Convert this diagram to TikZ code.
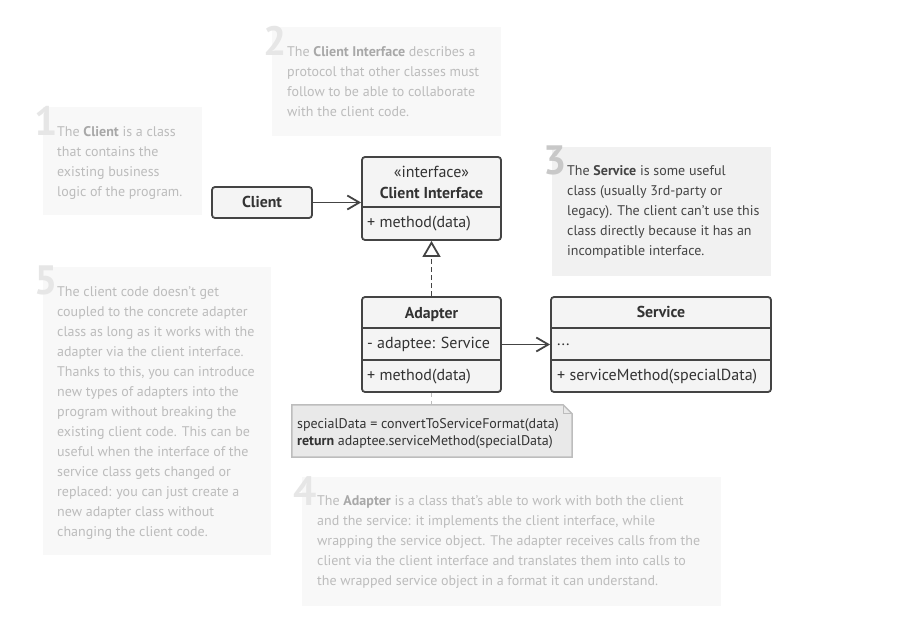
\documentclass[tikz,border=0pt]{standalone}
\usepackage{fontspec}
\setmainfont{PT Sans}
\usetikzlibrary{arrows.meta,calc}
\definecolor{ink}{HTML}{444444}
\definecolor{txt}{HTML}{333333}
\definecolor{boxfill}{HTML}{F4F4F4}
\definecolor{notefill}{HTML}{E9E9E9}
\definecolor{noteline}{HTML}{BDBDBD}
\definecolor{fadebg}{HTML}{F8F8F8}
\definecolor{fadetxt}{HTML}{BCBCBC}
\definecolor{fadebold}{HTML}{A8A8A8}
\definecolor{fadenum}{HTML}{E6E6E6}
\definecolor{hibg}{HTML}{F1F1F1}
\definecolor{hitxt}{HTML}{444444}
\definecolor{hinum}{HTML}{C8C8C8}
\newcommand\fadebf[1]{{\bfseries\color{fadebold}#1}}
\begin{document}
\begin{tikzpicture}[x=1pt,y=-1pt,
  umlbox/.style={draw=ink, fill=boxfill, line width=1.8pt, rounded corners=3pt, inner sep=0pt},
  boxtitle/.style={inner sep=0pt, anchor=base, text=txt, font=\fontsize{15.8}{18}\selectfont\bfseries},
  boxline/.style={inner sep=0pt, text=txt, anchor=west, font=\fontsize{16}{18}\selectfont},
  divider/.style={draw=ink, line width=1.8pt},
  assoc/.style={draw=ink, line width=1.8pt, -{Straight Barb[length=12pt,width=14pt,line width=1.8pt]}},
  realize/.style={draw=ink, line width=1.8pt, dash pattern=on 5pt off 3pt, -{Triangle[open,length=16pt,width=18pt,line width=1.8pt]}},
  notelink/.style={draw=noteline, line width=1.5pt, dash pattern=on 4pt off 4pt},
  paneltext/.style={anchor=north west, inner sep=0pt, align=left, font=\fontsize{14}{20}\selectfont},
  panelnum/.style={anchor=north west, inner sep=0pt, font=\fontsize{41}{41}\selectfont\bfseries},
  notetext/.style={anchor=north west, inner sep=0pt, align=left, text=txt, font=\fontsize{14}{17}\selectfont}
]
\useasboundingbox (0,0) rectangle (916,620);

% ---------- explanation panels ----------
\fill[fadebg] (43,107) rectangle (202,215);
\node[panelnum, text=fadenum] (n1) at (34,106) {1};
\node[paneltext, text=fadetxt] (p1) at (57,126) {The \fadebf{Client} is a class\\
that contains the\\
existing business\\
logic of the program.};

\fill[fadebg] (272,27) rectangle (501,136);
\node[panelnum, text=fadenum] (n2) at (263,26) {2};
\node[paneltext, text=fadetxt] (p2) at (287,46) {The \fadebf{Client Interface} describes a\\
protocol that other classes must\\
follow to be able to collaborate\\
with the client code.};

\fill[hibg] (552,147) rectangle (771,276);
\node[panelnum, text=hinum] (n3) at (543,146) {3};
\node[paneltext, text=hitxt] (p3) at (567,165) {The \textbf{Service} is some useful\\
class (usually 3rd-party or\\
legacy). The client can’t use this\\
class directly because it has an\\
incompatible interface.};

\fill[fadebg] (43,267) rectangle (271,555);
\node[panelnum, text=fadenum] (n5) at (34,266) {5};
\node[paneltext, text=fadetxt] (p5) at (57,286) {The client code doesn’t get\\
coupled to the concrete adapter\\
class as long as it works with the\\
adapter via the client interface.\\
Thanks to this, you can introduce\\
new types of adapters into the\\
program without breaking the\\
existing client code. This can be\\
useful when the interface of the\\
service class gets changed or\\
replaced: you can just create a\\
new adapter class without\\
changing the client code.};

\fill[fadebg] (302,477) rectangle (721,606);
\node[panelnum, text=fadenum] (n4) at (293,476) {4};
\node[paneltext, text=fadetxt] (p4) at (317,495) {The \fadebf{Adapter} is a class that’s able to work with both the client\\
and the service: it implements the client interface, while\\
wrapping the service object. The adapter receives calls from the\\
client via the client interface and translates them into calls to\\
the wrapped service object in a format it can understand.};

% ---------- UML boxes ----------
\node[umlbox, minimum width=100pt, minimum height=31pt] (client) at (262,202.5) {};
\node[boxtitle] (clientT) at (262,208) {Client};

\node[umlbox, minimum width=139pt, minimum height=83pt] (ci) at (431.5,198.5) {};
\node[inner sep=0pt, anchor=base, text=txt, font=\fontsize{16}{18}\selectfont] (ciS) at (431.5,177.5) {«interface»};
\node[boxtitle] (ciT) at (431.5,198.5) {Client Interface};
\draw[divider] (ci.west |- 0,207) -- (ci.east |- 0,207);
\node[boxline] (ciM) at (367,223.5) {+ method(data)};

\node[umlbox, minimum width=139pt, minimum height=95pt] (adapter) at (431.5,344.5) {};
\node[boxtitle] (adT) at (431.5,318.5) {Adapter};
\draw[divider] (adapter.west |- 0,328) -- (adapter.east |- 0,328);
\draw[divider] (adapter.west |- 0,360) -- (adapter.east |- 0,360);
\node[boxline] (adA) at (367,344.5) {- adaptee: Service};
\node[boxline] (adM) at (367,376.5) {+ method(data)};

\node[umlbox, minimum width=220pt, minimum height=95pt] (service) at (661,344.5) {};
\node[boxtitle] (svT) at (661,318) {Service};
\draw[divider] (service.west |- 0,328) -- (service.east |- 0,328);
\draw[divider] (service.west |- 0,360) -- (service.east |- 0,360);
\node[boxline] (svA) at (557,344.5) {...};
\node[boxline] (svM) at (557,376.5) {+ serviceMethod(specialData)};

% ---------- note ----------
\node[inner sep=0pt, minimum width=280pt, minimum height=52pt] (note) at (432,431) {};
\fill[notefill, draw=noteline, line width=1.5pt]
  (note.north west) -- ($(note.north east)+(-9,0)$) -- ($(note.north east)+(0,9)$)
  -- (note.south east) -- (note.south west) -- cycle;
\draw[noteline, line width=1.2pt] ($(note.north east)+(-9,0)$) -- ($(note.north east)+(-9,9)$) -- ($(note.north east)+(0,9)$);
\node[notetext] (noteT) at (297,418) {specialData = convertToServiceFormat(data)\\
\textbf{return} adaptee.serviceMethod(specialData)};

% ---------- connectors ----------
\draw[assoc] (client.east) -- (ci.west |- client.east);
\draw[assoc] (adapter.east) -- (service.west);
\draw[realize] (adapter.north) -- (ci.south);
\draw[notelink] (adapter.south) -- (adapter.south |- note.north);
\end{tikzpicture}
\end{document}
